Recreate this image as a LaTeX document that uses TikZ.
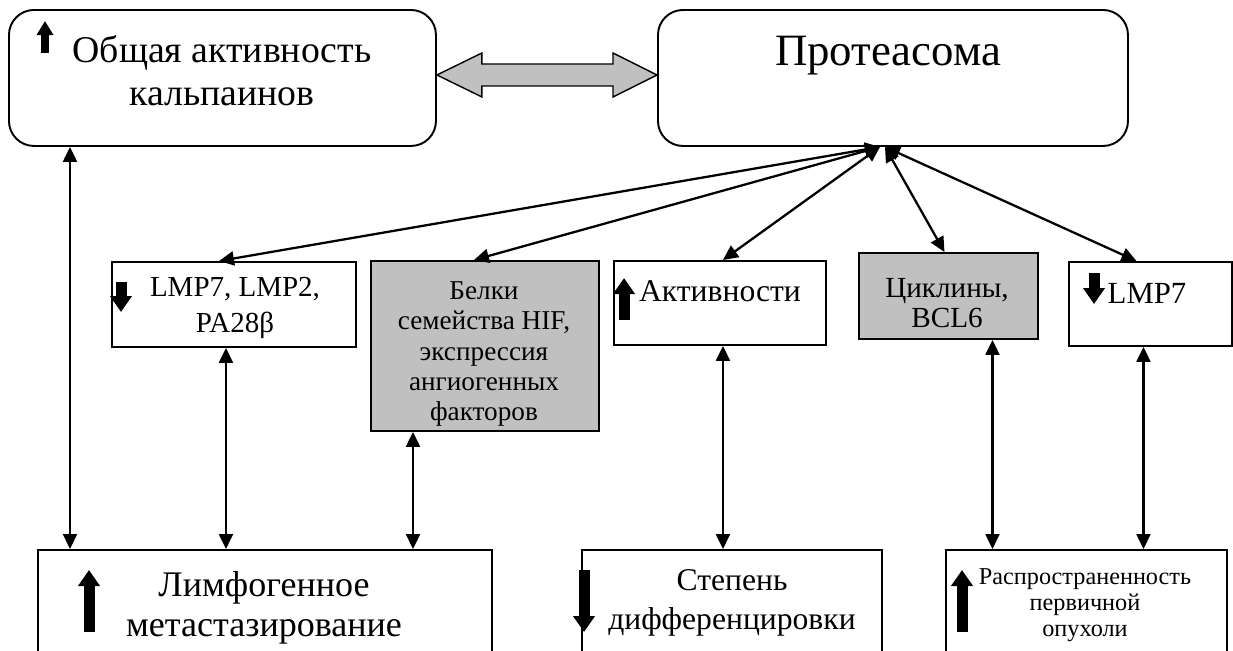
\documentclass[tikz,border=0pt]{standalone}
\usepackage{fontspec}
\setmainfont{Liberation Serif}
\usetikzlibrary{calc, arrows.meta, positioning}
\definecolor{boxgray}{HTML}{C0C0C0}

\begin{document}
\begin{tikzpicture}[
    x=0.02cm, y=-0.02cm,
    >={Triangle[length=0.3cm, width=0.28cm]},
    box/.style={draw, line width=1.1pt, inner sep=0pt, anchor=north west},
    roundbox/.style={box, rounded corners=0.5cm},
    graybox/.style={box, fill=boxgray},
    boxsize/.style 2 args={minimum width=#1*0.02cm, minimum height=#2*0.02cm},
    link/.style={<->, line width=1.3pt},
    txt/.style={align=center, inner sep=0pt},
    fat/.style={line width=0.22cm, -{Triangle[length=0.32cm, width=0.42cm]}},
    fatsmall/.style={line width=0.17cm, -{Triangle[length=0.28cm, width=0.32cm]}},
]

\useasboundingbox (0,0) rectangle (1233,650);
\clip (0,0) rectangle (1233,650);

% ── top row ──
\node[roundbox, boxsize={427}{136}] (calp) at (8,9) {};
\node[roundbox, boxsize={470}{136}] (prot) at (657,9) {};

% ── middle row ──
\node[box, boxsize={244}{85}] (lmp) at (111,261) {};
\node[graybox, boxsize={228}{170}] (hif) at (370,260) {};
\node[box, boxsize={212}{84}] (act) at (613,260) {};
\node[graybox, boxsize={179}{86}] (cyc) at (858,252) {};
\node[box, boxsize={163}{84}] (lmpr) at (1068,261) {};

% ── bottom row (cut by the page edge) ──
\node[box, boxsize={454}{150}] (lim) at (37,549) {};
\node[box, boxsize={300}{150}] (step) at (581,549) {};
\node[box, boxsize={281}{150}] (rasp) at (945,549) {};

% texts
\node[txt, font=\fontsize{21.5}{24.5}\selectfont] (calpT) at (222,71) {Общая активность\\кальпаинов};
\node[txt, font=\fontsize{25.5}{30}\selectfont] (protT) at (888,56) {Протеасома};
\node[txt, font=\fontsize{16.5}{20}\selectfont] (lmpT) at (235,308) {LMP7, LMP2,\\PA28β};
\node[txt, font=\fontsize{15.5}{17.2}\selectfont] (hifT) at (484,354) {Белки\\семейства HIF,\\экспрессия\\ангиогенных\\факторов};
\node[txt, font=\fontsize{18}{21}\selectfont] (actT) at (720,291) {Активности};
\node[txt, font=\fontsize{16.6}{17.2}\selectfont] (cycT) at (947,303) {Циклины,\\BCL6};
\node[txt, font=\fontsize{17.5}{21}\selectfont] (lmprT) at (1147,293) {LMP7};
\node[txt, font=\fontsize{20.5}{22.8}\selectfont] (limT) at (264,608) {Лимфогенное\\метастазирование};
\node[txt, font=\fontsize{18}{22}\selectfont] (stepT) at (732,603) {Степень\\дифференцировки};
\node[txt, font=\fontsize{13.8}{14.8}\selectfont] (raspT) at (1085,605) {Распространенность\\первичной\\опухоли};

% up / down marks
\draw[fatsmall] (45,53) -- (45,21);
\draw[fat] (121,282) -- (121,312);
\draw[fat] (624,320) -- (624,278);
\draw[fat] (1094,273) -- (1094,304);
\draw[fat] (89,632) -- (89,570);
\draw[fat] (584,570) -- (584,632);
\draw[fat] (962,632) -- (962,570);

% gray double arrow
\coordinate (dl) at ($(calp.east)+(0,-3)$);
\coordinate (dr) at ($(prot.west)+(0,-3)$);
\draw[line width=0.8pt, fill=boxgray] (dl) -- ++(45,-22) -- ++(0,11)
    -- ($(dr)+(-44,-11)$) -- ++(0,-11) -- (dr) -- ++(-44,22) -- ++(0,-11)
    -- ($(dl)+(45,11)$) -- ++(0,11) -- cycle;

% links from the proteasome
\coordinate (pin) at ($(prot.south)+(-13,0)$);
\coordinate (pin2) at ($(prot.south)+(-8,0)$);
\draw[link] (pin) -- ($(lmp.north)+(-15,0)$);
\draw[link] (pin) -- ($(hif.north)+(-11,0)$);
\draw[link] (pin) -- ($(act.north)+(3,0)$);
\draw[link] (pin2) -- ($(cyc.north)+(-4,0)$);
\draw[link] (pin2) -- ($(lmpr.north)+(-14,0)$);

% vertical links
\coordinate (v1) at ($(calp.south west)+(62,0)$);
\coordinate (v2) at ($(lmp.south)+(-8,0)$);
\coordinate (v3) at ($(hif.south west)+(43,0)$);
\coordinate (v4) at ($(act.south)+(3,0)$);
\coordinate (v5) at ($(cyc.south)+(44,0)$);
\coordinate (v6) at ($(lmpr.south)+(-7,0)$);
\draw[link] (v1) -- (v1 |- lim.north);
\draw[link] (v2) -- (v2 |- lim.north);
\draw[link] (v3) -- (v3 |- lim.north);
\draw[link] (v4) -- (v4 |- step.north);
\draw[link] (v5) -- (v5 |- rasp.north);
\draw[link] (v6) -- (v6 |- rasp.north);

\end{tikzpicture}
\end{document}
